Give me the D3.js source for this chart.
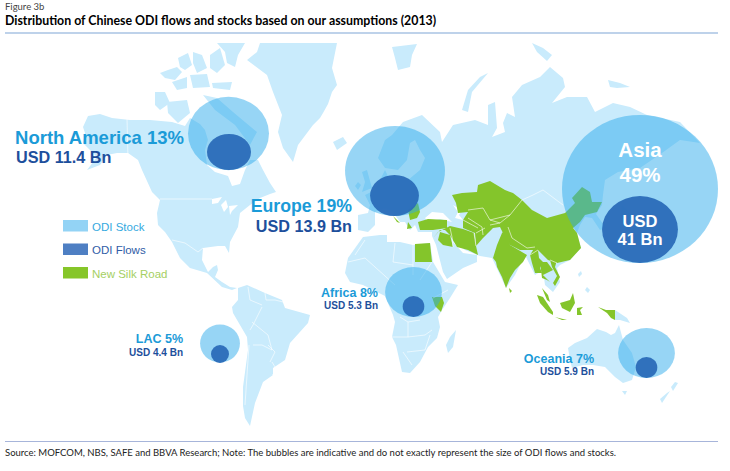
<!DOCTYPE html>
<html>
<head>
<meta charset="utf-8">
<script src="https://cdn.jsdelivr.net/npm/d3@7"></script>
<style>
  html, body { margin: 0; padding: 0; background: #fff; }
  svg { display: block; }
</style>
</head>
<body>
<svg id="chart" width="730" height="471"></svg>
<script>
// values
var regions = ["North America", "Europe", "Asia", "Africa", "LAC", "Oceania"];
var stockShare = [13, 19, 49, 8, 5, 7];
var flowBn = [11.4, 13.9, 41, 5.3, 4.4, 5.9];
// the note says bubbles are indicative, so bubble areas are read separately
var stockArea = [13.2, 20.1, 49, 6.5, 3.2, 6.5];
var flowArea = [3.9, 4.8, 11.6, 0.94, 0.65, 0.94];

var legendLabels = ["ODI Stock", "ODI Flows", "New Silk Road"];
var figureLabel = "Figure 3b";
var titleText = "Distribution of Chinese ODI flows and stocks based on our assumptions (2013)";
var sourceText = "Source: MOFCOM, NBS, SAFE and BBVA Research; Note: The bubbles are indicative and do not exactly represent the size of ODI flows and stocks.";

// map outlines, traced in map units
var land = [
  // north america
  [[88,116],[100,114],[112,118],[130,120],[150,120],[172,122],[185,126],[190,118],[200,124],[205,130],[208,140],[205,150],[207,165],[215,172],[228,176],[232,186],[240,184],[245,170],[250,160],[258,160],[263,170],[270,183],[276,192],[270,194],[260,198],[250,205],[240,213],[238,227],[230,242],[229,253],[225,246],[218,246],[203,248],[202,260],[208,272],[213,267],[217,265],[218,270],[215,277],[222,282],[230,287],[237,288],[232,290],[222,287],[207,273],[190,268],[180,258],[172,242],[165,232],[158,225],[157,213],[160,200],[152,192],[142,170],[138,160],[128,153],[117,153],[107,155],[100,165],[87,170],[97,157],[90,150],[83,143],[85,133],[83,127]],
  // canadian arctic
  [[155,92],[165,92],[170,103],[160,110],[155,105]],
  [[167,102],[187,100],[190,113],[178,123],[168,113]],
  [[203,95],[217,98],[233,112],[257,132],[250,145],[235,125],[215,110]],
  [[160,73],[168,70],[177,67],[182,72],[175,80],[165,78]],
  [[172,82],[187,77],[187,88],[177,90]],
  [[178,58],[188,53],[192,65],[185,70],[180,67]],
  [[193,52],[202,55],[207,68],[197,73],[193,63]],
  [[190,75],[207,74],[210,87],[193,88]],
  [[212,83],[232,82],[230,90],[213,88]],
  [[210,55],[220,48],[225,65],[217,73],[210,68]],
  [[217,43],[245,43],[238,55],[235,67],[227,63],[225,52]],
  // greenland, iceland, svalbard and the other northern islands
  [[260,43],[337,43],[332,68],[337,85],[332,92],[328,104],[323,113],[320,118],[313,125],[298,145],[293,162],[283,148],[278,132],[282,115],[273,92],[267,75],[247,60],[257,52]],
  [[333,142],[343,137],[347,143],[337,150]],
  [[392,47],[417,44],[412,55],[410,67],[398,70],[395,58]],
  [[532,43],[543,48],[552,55],[547,61],[537,52]],
  [[488,73],[480,77],[468,90],[462,110],[468,112],[472,92]],
  [[608,80],[620,83],[630,87],[617,88],[610,87]],
  // uk and ireland
  [[362,172],[367,170],[372,188],[362,192],[365,182]],
  [[358,182],[361,185],[358,190],[355,186]],
  // eurasia
  [[403,122],[422,115],[440,132],[442,142],[453,125],[475,120],[488,125],[488,105],[495,102],[497,128],[492,137],[505,132],[503,123],[507,113],[515,117],[512,97],[522,85],[540,77],[550,67],[563,78],[565,87],[552,103],[567,97],[587,97],[595,112],[613,103],[630,107],[647,115],[680,122],[700,143],[680,140],[662,153],[640,168],[618,172],[605,180],[603,195],[602,205],[596,214],[606,228],[600,230],[592,218],[585,217],[580,225],[577,233],[581,248],[570,260],[560,265],[557,268],[560,282],[553,292],[545,285],[543,270],[535,275],[530,265],[525,255],[515,275],[506,288],[500,275],[492,258],[480,256],[465,250],[452,241],[463,253],[477,255],[477,262],[463,268],[447,279],[443,272],[436,245],[432,236],[432,232],[418,232],[415,225],[410,230],[405,222],[400,222],[393,212],[385,208],[375,212],[375,225],[368,232],[358,230],[358,215],[368,213],[370,205],[365,195],[375,190],[380,180],[385,170],[390,180],[408,180],[420,170],[425,158],[420,150],[415,140],[410,143],[407,160],[398,170],[385,168],[378,158],[385,140],[392,135]],
  // africa
  [[363,237],[380,235],[387,235],[387,242],[400,242],[413,245],[430,243],[433,262],[445,282],[458,285],[450,298],[442,310],[438,317],[440,327],[437,338],[428,347],[420,362],[410,373],[402,372],[396,345],[392,337],[395,322],[393,315],[385,296],[363,285],[350,282],[345,273],[348,258]],
  [[456,330],[453,347],[448,353],[446,345],[450,337]],
  // south america
  [[238,288],[247,285],[265,293],[282,300],[285,308],[310,315],[308,323],[290,343],[285,360],[273,368],[273,375],[263,382],[255,403],[250,426],[245,418],[243,406],[243,387],[248,350],[247,337],[233,313],[232,307],[238,300]],
  // oceania and small asian islands
  [[568,348],[575,343],[587,338],[597,329],[606,332],[611,335],[615,333],[619,325],[623,340],[632,353],[636,367],[632,380],[623,383],[615,377],[605,367],[593,365],[583,365],[572,368],[570,360]],
  [[622,391],[627,391],[625,395]],
  [[675,382],[678,383],[673,391],[671,387]],
  [[670,391],[662,403],[660,399],[667,393]],
  [[615,310],[627,318],[630,323],[620,320],[615,320]],
  [[581,271],[582,274],[579,277],[578,274]],
  [[587,287],[590,290],[588,293],[585,290]],
  [[622,205],[632,215],[628,225],[620,218]]
];

var water = [
  [[453,205],[462,210],[459,215],[463,220],[455,218],[458,212]],
  [[425,218],[432,212],[443,213],[452,222],[440,219],[428,222]],
  [[212,199],[222,197],[218,203],[212,204]],
  [[221,205],[226,200],[228,207],[224,212]],
  [[229,206],[238,205],[232,211],[230,215]]
];

var silkRoad = [
  // kazakhstan, central asia, china
  [[452,195],[462,193],[477,192],[478,185],[490,181],[505,190],[513,193],[522,200],[532,210],[547,218],[565,213],[575,203],[572,198],[582,187],[590,192],[592,202],[602,202],[597,212],[585,215],[580,222],[573,228],[577,233],[581,248],[570,260],[557,263],[548,260],[538,250],[520,250],[510,245],[503,233],[500,227],[493,228],[483,238],[476,246],[475,233],[463,228],[463,220],[468,212],[458,213],[456,203]],
  // iran, iraq, syria
  [[450,226],[463,229],[474,233],[476,246],[478,255],[468,250],[457,247],[450,235],[445,230],[440,230],[433,238],[438,232]],
  [[440,232],[450,235],[453,247],[443,245],[438,240]],
  // turkey
  [[418,222],[428,219],[447,220],[447,228],[433,230],[420,230]],
  // india and sri lanka
  [[502,233],[508,227],[510,245],[527,255],[523,262],[515,270],[510,278],[506,288],[502,277],[497,267],[496,262],[493,258],[497,245]],
  [[509,288],[512,291],[510,293]],
  // myanmar, thailand, vietnam
  [[530,255],[535,247],[538,250],[539,258],[543,262],[540,268],[542,273],[535,273],[532,263]],
  [[540,262],[547,262],[553,270],[547,273],[543,275],[550,282],[547,280],[542,278]],
  [[550,260],[557,260],[555,267],[560,277],[555,286],[553,283],[557,276],[552,267]],
  // indonesia and malaysia
  [[537,295],[543,297],[553,312],[553,315],[548,312],[540,303]],
  [[542,288],[548,295],[550,302],[547,300]],
  [[555,317],[567,320],[562,320]],
  [[560,303],[570,300],[573,293],[575,303],[570,312],[562,308]],
  [[577,308],[583,307],[580,310],[582,315],[577,315]],
  [[598,307],[606,310],[615,310],[615,320],[611,318],[607,313]],
  // egypt, kenya
  [[415,244],[430,243],[432,262],[415,262]],
  [[432,297],[442,297],[444,303],[441,312],[435,306]],
  // balkans and black sea
  [[408,210],[418,203],[420,212],[417,218],[410,220]],
  [[393,216],[400,223],[397,222]],
  [[408,222],[412,228],[407,229]]
];

var borders = [
  // usa / canada, alaska, mexico
  [[160,199],[212,199]], [[127,118],[128,160]], [[172,240],[185,243],[198,252],[203,248]],
  // russia / mongolia
  [[522,200],[533,195],[543,190],[563,205]],
  // south america
  [[248,287],[250,300],[262,305]], [[265,293],[266,300],[275,300],[283,302]], [[262,307],[253,325],[250,330]],
  [[252,322],[268,335],[272,350],[262,345],[253,345]], [[268,345],[275,352],[270,362]],
  [[249,345],[245,405]], [[272,362],[278,372],[272,375]],
  // africa
  [[365,240],[355,255]], [[395,243],[393,262],[413,265]], [[413,245],[413,275]], [[348,262],[365,258],[395,285]],
  [[400,317],[408,322],[420,320]], [[408,322],[408,337],[425,335],[432,330]], [[392,337],[408,337]],
  [[407,352],[425,350],[430,335]], [[403,352],[412,365]], [[432,262],[420,280]], [[433,298],[448,290]],
  // silk road interior
  [[468,210],[483,208],[490,220],[510,215]], [[522,200],[510,215],[500,223]], [[468,218],[482,227],[483,235]],
  [[463,220],[478,228]], [[476,233],[485,228]], [[450,228],[452,237],[453,247]], [[490,220],[500,223],[490,225]],
  [[474,233],[476,246]], [[538,250],[530,255]], [[550,260],[557,263]], [[508,227],[512,238],[527,248],[535,247]]
];

// where each bubble and its labels sit on the picture
var bubbleCentre = [[228.5,133.5],[395,171],[640,189],[413.5,292],[220,343.5],[646.5,353]];
var flowCentre = [[229,152],[394.5,195.5],[640,229.5],[413.5,306.5],[220,354],[646.5,367.5]];
var stockSquash = [0.905, 0.9, 0.95, 0.88, 0.95, 0.88];
var flowSquash = [0.82, 0.84, 0.88, 0.97, 1, 0.97];

var svg = d3.select("#chart"),
    width = +svg.attr("width"),
    height = +svg.attr("height");

var landColor = "#c9ebfc", greenColor = "#84c52b";
var bubbleR = d3.scaleSqrt().domain([0, 49]).range([0, 78]);
var mapX = d3.scaleLinear().domain([0, 730]).range([0, width]);
var mapY = d3.scaleLinear().domain([0, 471]).range([0, height]);
var shape = d3.line().x(function (d) { return mapX(d[0]); }).y(function (d) { return mapY(d[1]); });
var closedShape = function (d) { return shape(d) + "Z"; };

// header and footer
svg.append("text").attr("x", 5).attr("y", 10).style("font", "9.5px Lato").attr("fill", "#444").text(figureLabel);
svg.append("text").attr("x", 5).attr("y", 25).style("font", "bold 12.35px Lato").attr("fill", "#000").text(titleText);
svg.append("line").attr("x1", 5).attr("x2", 718).attr("y1", 33).attr("y2", 33).attr("stroke", "#a9c3e3").attr("stroke-width", 1.5);
svg.append("line").attr("x1", 5).attr("x2", 718).attr("y1", 441.5).attr("y2", 441.5).attr("stroke", "#a7b5da").attr("stroke-width", 1.2);
svg.append("text").attr("x", 5).attr("y", 456).style("font", "9.5px Lato").attr("fill", "#222").text(sourceText);

// map
var map = svg.append("g");
map.selectAll(".land").data(land).enter().append("path").attr("class", "land")
    .attr("d", closedShape).attr("fill", landColor);
map.selectAll(".water").data(water).enter().append("path").attr("class", "water")
    .attr("d", closedShape).attr("fill", "#fff");
map.selectAll(".silk").data(silkRoad).enter().append("path").attr("class", "silk")
    .attr("d", closedShape).attr("fill", greenColor);
map.selectAll(".border").data(borders).enter().append("path").attr("class", "border")
    .attr("d", shape).attr("fill", "none").attr("stroke", "#fff").attr("stroke-width", 0.7).attr("opacity", 0.85);

// bubbles
svg.selectAll(".stock").data(regions).enter().append("ellipse").attr("class", "stock")
    .attr("cx", function (d, i) { return mapX(bubbleCentre[i][0]); })
    .attr("cy", function (d, i) { return mapY(bubbleCentre[i][1]); })
    .attr("rx", function (d, i) { return bubbleR(stockArea[i]); })
    .attr("ry", function (d, i) { return bubbleR(stockArea[i]) * stockSquash[i]; })
    .attr("fill", "#2fabeb").attr("fill-opacity", 0.5);
svg.selectAll(".flow").data(regions).enter().append("ellipse").attr("class", "flow")
    .attr("cx", function (d, i) { return mapX(flowCentre[i][0]); })
    .attr("cy", function (d, i) { return mapY(flowCentre[i][1]); })
    .attr("rx", function (d, i) { return bubbleR(flowArea[i]); })
    .attr("ry", function (d, i) { return bubbleR(flowArea[i]) * flowSquash[i]; })
    .attr("fill", "#2a6cb8").attr("fill-opacity", 0.95);

// region labels
var labelBlue = "#1b9bd8", labelNavy = "#1d4f9c";
function label(x, y, anchor, size, color, str) {
    svg.append("text").attr("x", x).attr("y", y).attr("text-anchor", anchor)
        .style("font-family", "'Liberation Sans', Arial, sans-serif")
        .style("font-weight", "bold").style("font-size", size + "px")
        .attr("fill", color).text(str);
}
var shareText = stockShare.map(function (d, i) { return regions[i] + " " + d + "%"; });
var flowText = flowBn.map(function (d) { return "USD " + d + " Bn"; });

label(184, 144, "end", 18.5, labelBlue, shareText[0]);
label(16, 163, "start", 16.2, labelNavy, flowText[0]);
label(352, 212, "end", 17.7, labelBlue, shareText[1]);
label(352, 232, "end", 16.2, labelNavy, flowText[1]);
label(640, 157, "middle", 20.5, "#fff", regions[2]);
label(640, 182, "middle", 20.5, "#fff", stockShare[2] + "%");
label(640, 227, "middle", 16.5, "#fff", "USD");
label(640, 245, "middle", 16.5, "#fff", flowBn[2] + " Bn");
label(378, 297, "end", 12.5, labelBlue, shareText[3]);
label(378, 309, "end", 10, labelNavy, flowText[3]);
label(183, 343, "end", 12.5, labelBlue, shareText[4]);
label(183, 356, "end", 10, labelNavy, flowText[4]);
label(594, 363, "end", 12.5, labelBlue, shareText[5]);
label(594, 375, "end", 10, labelNavy, flowText[5]);

// legend
var legendY = d3.scalePoint().domain(legendLabels).range([220, 267]);
var legendFill = d3.scaleOrdinal().domain(legendLabels).range(["#93d3f5", "#4e7fc3", "#86c629"]);
var legendInk = d3.scaleOrdinal().domain(legendLabels).range(["#35a9e0", "#2f5da6", "#a5cf63"]);
var legend = svg.selectAll(".legend").data(legendLabels).enter().append("g").attr("class", "legend")
    .attr("transform", function (d) { return "translate(63," + legendY(d) + ")"; });
legend.append("rect").attr("width", 25).attr("height", 11.5).attr("fill", legendFill);
legend.append("text").attr("x", 29).attr("y", 10.5)
    .style("font", "11.5px 'Liberation Sans', Arial, sans-serif")
    .attr("fill", legendInk).text(function (d) { return d; });
</script>
</body>
</html>
